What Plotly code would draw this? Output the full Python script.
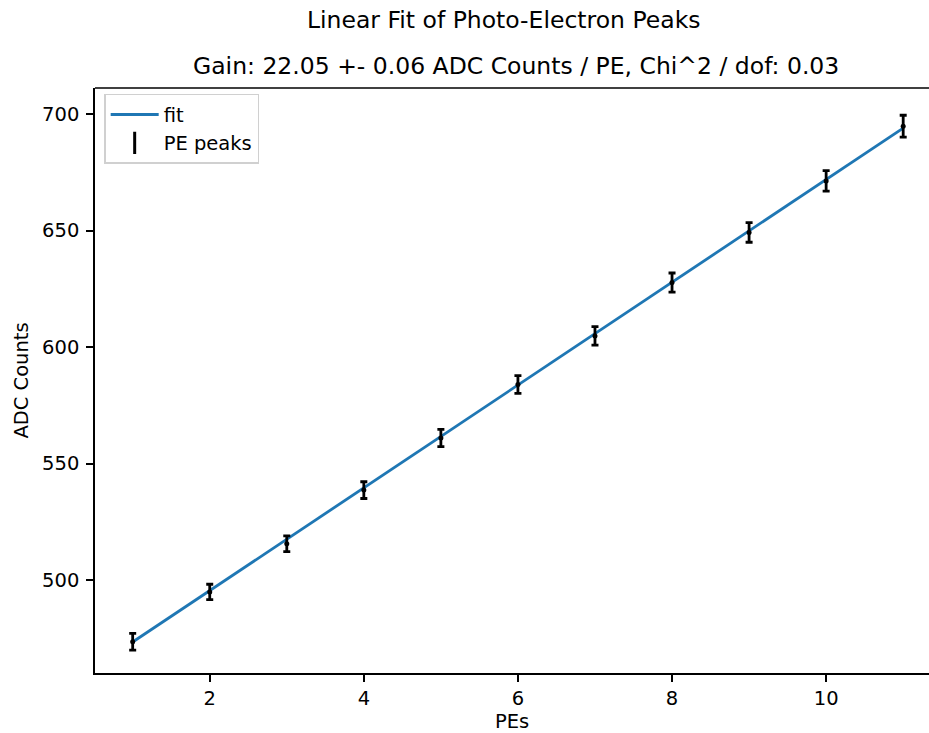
import plotly.graph_objects as go

pes = [1, 2, 3, 4, 5, 6, 7, 8, 9, 10, 11]
adc_peaks = [473.5, 494.9, 515.6, 538.6, 561.0, 583.9, 604.8, 627.7, 649.2, 671.3, 694.8]
adc_errors = [3.6, 3.3, 3.4, 3.6, 3.7, 3.8, 4.0, 4.1, 4.2, 4.4, 4.7]
fit_x = [1, 11]
fit_y = [473.4, 694.0]
x_ticks = [2, 4, 6, 8, 10]
y_ticks = [500, 550, 600, 650, 700]

FONT = "DejaVu Sans"
TICK_SIZE = 19.5
TITLE_SIZE = 23.5

fig = go.Figure()
fig.add_trace(go.Scatter(
    x=fit_x, y=fit_y, mode="lines", name="fit",
    line=dict(color="#1f77b4", width=2.8),
))
fig.add_trace(go.Scatter(
    x=pes, y=adc_peaks, mode="markers", name="PE peaks", showlegend=False,
    marker=dict(color="black", size=5),
    error_y=dict(type="data", array=adc_errors, color="black", thickness=2.8, width=3.5),
))
# legend-only entry mimicking the errorbar glyph
fig.add_trace(go.Scatter(
    x=[None], y=[None], mode="markers", name="PE peaks",
    marker=dict(color="black", symbol="line-ns", size=16, line=dict(width=3, color="black")),
))

fig.update_layout(
    width=929, height=733,
    paper_bgcolor="white", plot_bgcolor="white",
    margin=dict(l=95, r=0, t=88, b=60),
    font=dict(family=FONT, size=TICK_SIZE, color="black"),
    showlegend=True,
    legend=dict(
        x=0.011, y=0.99, xanchor="left", yanchor="top",
        bgcolor="rgba(255,255,255,0.8)", bordercolor="#d0d0d0", borderwidth=1.5,
        font=dict(family=FONT, size=TICK_SIZE), itemwidth=48,
    ),
    xaxis=dict(
        range=[0.511, 11.335], tickvals=x_ticks, ticks="outside", ticklen=7,
        tickwidth=1.5, tickcolor="black", showgrid=False, zeroline=False,
        showline=True, linecolor="black", linewidth=1.6, mirror=False,
        title=dict(text="PEs", font=dict(family=FONT, size=TICK_SIZE), standoff=6),
    ),
    yaxis=dict(
        range=[460.1, 711.2], tickvals=y_ticks, ticks="outside", ticklen=7,
        tickwidth=1.5, tickcolor="black", showgrid=False, zeroline=False,
        showline=True, linecolor="black", linewidth=1.6, mirror=False,
        ticklabelstandoff=3,
        title=dict(text="ADC Counts", font=dict(family=FONT, size=TICK_SIZE), standoff=8),
    ),
    shapes=[dict(type="line", xref="paper", yref="paper", x0=0, x1=1, y0=1, y1=1,
                 line=dict(color="black", width=1.6))],
    annotations=[
        dict(text="Linear Fit of Photo-Electron Peaks", xref="paper", yref="paper",
             x=0.49, y=1, yshift=68, xanchor="center", yanchor="middle", showarrow=False,
             font=dict(family=FONT, size=TITLE_SIZE)),
        dict(text="Gain: 22.05 +- 0.06 ADC Counts / PE, Chi^2 / dof: 0.03", xref="paper", yref="paper",
             x=0.505, y=1, yshift=22, xanchor="center", yanchor="middle", showarrow=False,
             font=dict(family=FONT, size=TITLE_SIZE)),
    ],
)

fig.write_html(
    "out.html",
    config={"displayModeBar": False},
    post_script="document.body.style.margin='0';document.body.style.overflow='hidden';",
)
